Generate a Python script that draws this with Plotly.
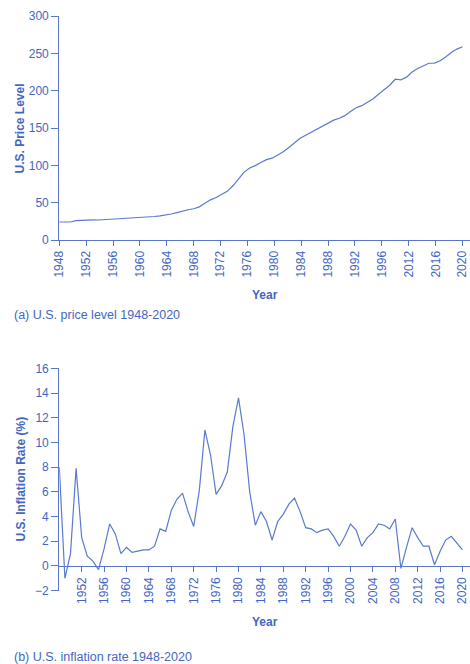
import plotly.graph_objects as go

years = list(range(1948, 2021))

price_level = [24.1, 23.8, 24.1, 26.0, 26.5, 26.7, 26.9, 26.8, 27.2, 28.1,
               28.9, 29.1, 29.6, 29.9, 30.2, 30.6, 31.0, 31.5, 32.4, 33.4,
               34.8, 36.7, 38.8, 40.5, 41.8, 44.4, 49.3, 53.8, 56.9, 60.6,
               65.2, 72.6, 82.4, 90.9, 96.5, 99.6, 103.9, 107.6, 109.6, 113.6,
               118.3, 124.0, 130.7, 136.2, 140.3, 144.5, 148.2, 152.4, 156.9, 160.5,
               163.0, 166.6, 172.2, 177.1, 179.9, 184.0, 188.9, 195.3, 201.6, 207.3,
               215.3, 214.5, 218.1, 224.9, 229.6, 233.0, 236.7, 237.0, 240.0, 245.1,
               251.1, 255.7, 258.8]

inflation = [8.0, -1.0, 1.0, 7.9, 2.3, 0.8, 0.4, -0.3, 1.4, 3.4,
             2.6, 1.0, 1.5, 1.1, 1.2, 1.3, 1.3, 1.6, 3.0, 2.8,
             4.5, 5.4, 5.9, 4.4, 3.2, 6.1, 11.0, 9.0, 5.8, 6.5,
             7.6, 11.3, 13.6, 10.6, 6.0, 3.3, 4.4, 3.6, 2.1, 3.6,
             4.2, 5.0, 5.5, 4.4, 3.1, 3.0, 2.7, 2.9, 3.0, 2.4,
             1.6, 2.4, 3.4, 2.9, 1.6, 2.3, 2.7, 3.4, 3.3, 3.0,
             3.8, -0.2, 1.5, 3.1, 2.3, 1.6, 1.6, 0.1, 1.2, 2.1,
             2.4, 1.8, 1.3]

top_tick_labels = ["1948", "1952", "1956", "1960", "1964", "1968", "1972", "1976",
                   "1980", "1984", "1988", "1992", "1996", "2012", "2016", "2020"]
bottom_tick_years = list(range(1952, 2021, 4))

W, H = 470, 664
TEXT = "#4466c2"
LINE = "#5a79cf"
AXIS = "#5a76cc"
FONT = "Liberation Sans, Arial, sans-serif"

def py(p):
    return 1 - p / H

x0 = 59.3 / W
px_per_year = (462.5 - 59.3) / 72.0
xr = [1948, 1948 + (W - 59.3) / px_per_year]

n = len(top_tick_labels)
top_tick_vals = [1948 + i * (2020 - 1948) / (n - 1) for i in range(n)]

fig = go.Figure()
fig.add_trace(go.Scatter(x=years, y=price_level, mode="lines",
                         line=dict(color=LINE, width=1.2), xaxis="x", yaxis="y",
                         showlegend=False))
fig.add_trace(go.Scatter(x=years, y=inflation, mode="lines",
                         line=dict(color=LINE, width=1.2), xaxis="x2", yaxis="y2",
                         showlegend=False))

axis_common = dict(showline=True, linecolor=AXIS, linewidth=1.2, showgrid=False,
                   zeroline=False, ticks="outside", tickcolor=AXIS, tickwidth=1.2,
                   automargin=False,
                   tickfont=dict(family=FONT, size=12, color=TEXT))

fig.update_layout(
    width=W, height=H,
    margin=dict(l=0, r=0, t=0, b=0, pad=0),
    paper_bgcolor="white", plot_bgcolor="white",
    xaxis=dict(domain=[x0, 1], range=xr, anchor="y",
               tickmode="array", tickvals=top_tick_vals, ticktext=top_tick_labels,
               tickangle=-90, ticklen=5, ticklabeloverflow="allow", **axis_common),
    yaxis=dict(domain=[py(240), py(16)], range=[0, 300], anchor="x",
               tickvals=[0, 50, 100, 150, 200, 250, 300], ticklen=7, **axis_common),
    xaxis2=dict(domain=[x0, 1], range=xr, anchor="free", position=py(566.3),
                tickmode="array", tickvals=bottom_tick_years,
                ticktext=[str(y) for y in bottom_tick_years],
                tickangle=-90, ticklen=5, ticklabeloverflow="allow", **axis_common),
    yaxis2=dict(domain=[py(590.7), py(368.3)], range=[-2, 16], anchor="x2",
                tickvals=list(range(-2, 17, 2)),
                ticktext=["\u22122"] + [str(v) for v in range(0, 17, 2)],
                ticklen=7, **axis_common),
)

ann = [
    dict(text="<b>U.S. Price Level</b>", x=20 / W, y=py(128.5), textangle=-90,
         font=dict(size=12, color=TEXT)),
    dict(text="<b>Year</b>", x=264.6 / W, y=py(295), font=dict(size=12, color=TEXT)),
    dict(text="(a) U.S. price level 1948-2020", x=12 / W, y=py(315), xanchor="left",
         font=dict(size=12.5, color=TEXT)),
    dict(text="<b>U.S. Inflation Rate (%)</b>", x=20 / W, y=py(479.5), textangle=-90,
         font=dict(size=12, color=TEXT)),
    dict(text="<b>Year</b>", x=264.6 / W, y=py(621.7), font=dict(size=12, color=TEXT)),
    dict(text="(b) U.S. inflation rate 1948-2020", x=12 / W, y=py(656.5), xanchor="left",
         font=dict(size=12.5, color=TEXT)),
]
for a in ann:
    a.setdefault("xanchor", "center")
    a.update(xref="paper", yref="paper", yanchor="middle", showarrow=False)
    a["font"]["family"] = FONT
fig.update_layout(annotations=ann)

fig.write_html("out.html", config={"displayModeBar": False},
               post_script="document.body.style.margin='0';document.body.style.overflow='hidden';")
